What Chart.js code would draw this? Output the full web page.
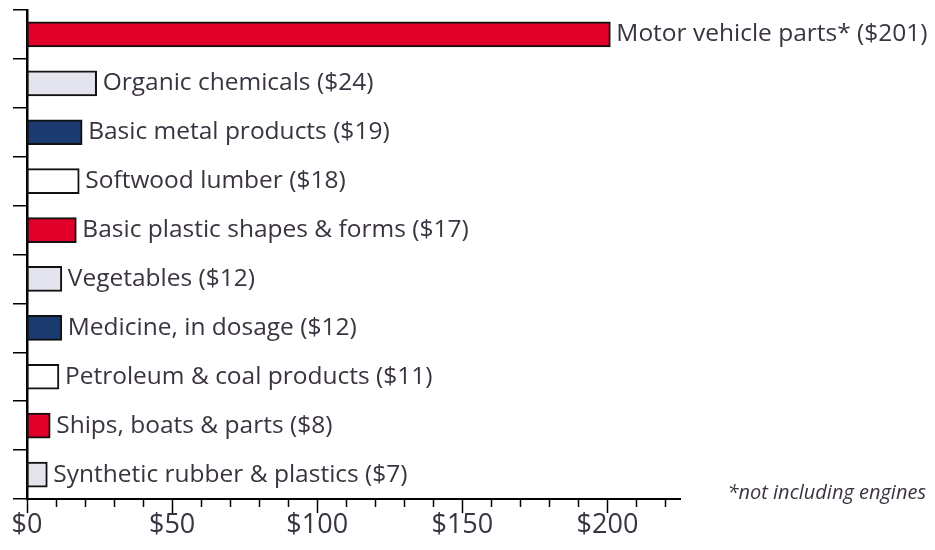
<!DOCTYPE html>
<html>
<head>
<meta charset="utf-8">
<script src="https://cdn.jsdelivr.net/npm/chart.js@4"></script>
<style>
  html, body { margin: 0; padding: 0; background: #fff; }
  #wrap { width: 935px; height: 550px; }
</style>
</head>
<body>
<div id="wrap"><canvas id="chart"></canvas></div>
<script>
const categories = ['Motor vehicle parts*', 'Organic chemicals', 'Basic metal products', 'Softwood lumber',
  'Basic plastic shapes & forms', 'Vegetables', 'Medicine, in dosage', 'Petroleum & coal products',
  'Ships, boats & parts', 'Synthetic rubber & plastics'];
const values = [201, 24, 19, 18, 17, 12, 12, 11, 8, 7];
const barColors = ['#e0002a', '#e4e4ee', '#1b3a70', '#ffffff', '#e0002a', '#e4e4ee', '#1b3a70', '#ffffff', '#e0002a', '#e4e4ee'];
const majorTicks = [0, 50, 100, 150, 200];
const footnote = '*not including engines';

const textColor = '#3b3340';
const labelFont = "'Open Sans', sans-serif";

// value labels, minor/major ticks and footnote
const extras = {
  id: 'extras',
  afterDraw(chart) {
    const { ctx, chartArea: { bottom }, scales: { x, y } } = chart;
    ctx.save();

    // x ticks: every 10, longer every 50
    ctx.strokeStyle = '#000';
    ctx.lineWidth = 1.5;
    for (let v = 0; v <= x.max; v += 10) {
      const px = Math.round(x.getPixelForValue(v)) + 0.5;
      const len = majorTicks.includes(v) ? 14 : 8;
      ctx.beginPath();
      ctx.moveTo(px, bottom);
      ctx.lineTo(px, bottom + len);
      ctx.stroke();
    }

    // labels at the bar ends
    ctx.font = `24.5px ${labelFont}`;
    ctx.fillStyle = textColor;
    ctx.textAlign = 'left';
    ctx.textBaseline = 'middle';
    values.forEach((v, i) => {
      ctx.fillText(`${categories[i]} ($${v})`, x.getPixelForValue(v) + 6, y.getPixelForValue(i));
    });

    // footnote
    ctx.font = `italic 20px ${labelFont}`;
    ctx.textAlign = 'right';
    ctx.fillText(footnote, 926, 493);
    ctx.restore();
  }
};

new Chart(document.getElementById('chart'), {
  type: 'bar',
  data: {
    labels: categories,
    datasets: [{
      data: values,
      backgroundColor: barColors,
      borderColor: '#111',
      borderWidth: 2,
      borderSkipped: false,
      barThickness: 25
    }]
  },
  options: {
    indexAxis: 'y',
    responsive: true,
    maintainAspectRatio: false,
    animation: false,
    layout: { padding: { top: 10, right: 255, left: 13, bottom: 0 } },
    plugins: { legend: { display: false }, tooltip: { enabled: false } },
    scales: {
      x: {
        min: 0,
        max: 225,
        afterBuildTicks(scale) {
          scale.ticks = majorTicks.map(v => ({ value: v }));
        },
        afterFit(scale) { scale.height = 51; },
        grid: { display: false, drawTicks: false },
        border: { display: true, color: '#000', width: 2 },
        ticks: {
          padding: 10,
          color: textColor,
          font: { family: labelFont, size: 27 },
          callback: v => '$' + v,
          maxRotation: 0
        }
      },
      y: {
        afterFit(scale) { scale.width = 14; },
        grid: { offset: true, drawOnChartArea: false, drawTicks: true, tickLength: 14, color: '#000', lineWidth: 1.5 },
        border: { display: true, color: '#000', width: 2.5 },
        ticks: { display: false }
      }
    }
  },
  plugins: [extras]
});
</script>
</body>
</html>
